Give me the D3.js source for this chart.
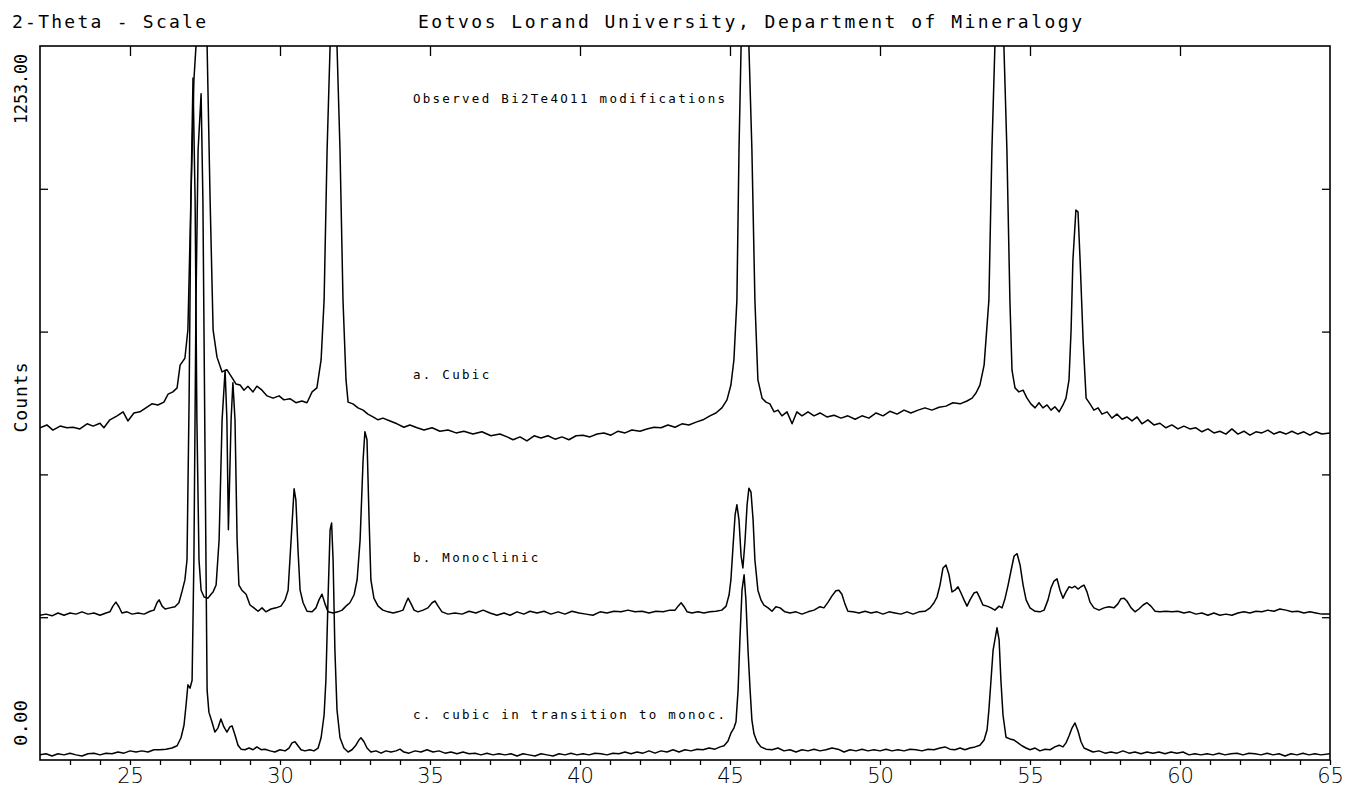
<!doctype html>
<html lang="en">
<head>
  <meta charset="utf-8">
  <style>
    body { margin: 0; background: #fff; }
    text { font-family: "DejaVu Sans Mono", monospace; fill: #000; }
  </style>
</head>
<body>
  <script src="https://d3js.org/d3.v7.min.js"></script>
  <div id="chart"></div>
  <script>
  // [2-theta, counts], three patterns offset on one axis
  var cubic = [
    [22.0,583],[22.23,588],[22.43,579],[22.67,586],[22.9,583],[23.1,584],[23.33,581],[23.57,590],[23.77,586],[24.0,591],
    [24.13,583],[24.33,597],[24.57,604],[24.77,611],[24.93,595],[25.13,609],[25.33,611],[25.53,618],[25.73,625],[25.93,623],
    [26.13,628],[26.27,642],[26.43,646],[26.57,653],[26.67,693],[26.83,705],[26.93,755],[27.03,983],[27.13,1193],[27.2,1253],
    [27.37,2600],[27.57,1253],[27.67,983],[27.77,755],[27.9,707],[28.07,681],[28.23,685],[28.4,671],[28.53,660],[28.67,658],
    [28.8,649],[28.93,656],[29.1,646],[29.23,656],[29.4,649],[29.57,639],[29.77,635],[29.97,639],[30.13,632],[30.33,634],
    [30.53,627],[30.73,630],[30.9,627],[31.07,646],[31.23,653],[31.37,702],[31.47,807],[31.57,1071],[31.67,1253],[31.78,2600],
    [31.9,1253],[32.0,1071],[32.1,807],[32.2,667],[32.27,628],[32.43,625],[32.6,618],[32.77,614],[32.93,607],[33.1,602],
    [33.27,597],[33.43,600],[33.67,595],[33.9,590],[34.13,584],[34.33,588],[34.57,583],[34.8,579],[35.07,583],[35.33,577],
    [35.6,579],[35.87,574],[36.13,577],[36.43,572],[36.73,576],[37.03,569],[37.33,572],[37.57,567],[37.77,562],[38.0,567],
    [38.23,560],[38.47,569],[38.7,565],[38.93,569],[39.17,563],[39.4,567],[39.63,562],[39.87,569],[40.1,570],[40.33,567],
    [40.57,572],[40.8,574],[41.03,570],[41.27,577],[41.5,574],[41.73,579],[42.0,577],[42.23,581],[42.47,584],[42.7,583],
    [42.93,588],[43.17,584],[43.4,590],[43.63,588],[43.87,593],[44.1,597],[44.33,604],[44.53,609],[44.73,618],[44.9,632],
    [45.03,658],[45.13,702],[45.23,807],[45.3,1071],[45.37,1253],[45.5,2600],[45.63,1253],[45.73,1071],[45.83,807],[45.93,667],
    [46.07,635],[46.2,628],[46.33,625],[46.47,611],[46.6,614],[46.73,604],[46.9,611],[47.07,590],[47.23,611],[47.4,604],
    [47.6,611],[47.8,604],[48.0,609],[48.23,602],[48.47,605],[48.7,600],[48.93,604],[49.17,598],[49.4,604],[49.63,600],
    [49.87,609],[50.1,604],[50.33,612],[50.57,607],[50.8,614],[51.03,609],[51.27,614],[51.5,618],[51.73,614],[51.97,619],
    [52.2,621],[52.43,627],[52.67,625],[52.9,630],[53.07,635],[53.2,644],[53.33,658],[53.47,693],[53.63,807],[53.73,1071],
    [53.83,1253],[53.98,2600],[54.13,1253],[54.23,1071],[54.33,807],[54.4,684],[54.5,653],[54.63,646],[54.77,649],[54.9,635],
    [55.03,625],[55.17,618],[55.3,627],[55.43,618],[55.57,623],[55.7,614],[55.83,620],[55.97,611],[56.1,623],[56.2,635],
    [56.3,667],[56.37,755],[56.43,877],[56.53,965],[56.6,962],[56.67,877],[56.77,737],[56.87,635],[57.0,625],[57.13,614],
    [57.27,618],[57.4,607],[57.57,611],[57.73,600],[57.9,607],[58.07,598],[58.23,602],[58.4,595],[58.57,602],[58.73,590],
    [58.93,597],[59.13,588],[59.33,591],[59.53,583],[59.73,588],[59.93,581],[60.13,586],[60.33,581],[60.53,583],[60.73,576],
    [60.93,581],[61.13,574],[61.33,577],[61.53,572],[61.73,581],[61.93,572],[62.13,577],[62.33,570],[62.53,576],[62.73,574],
    [62.93,579],[63.13,572],[63.33,576],[63.53,572],[63.73,577],[63.93,572],[64.13,576],[64.33,570],[64.53,576],[64.73,572],
    [65.0,574]
  ];

  var monoclinic = [
    [22.0,254],[22.2,256],[22.4,253],[22.6,258],[22.8,254],[23.0,258],[23.2,256],[23.4,260],[23.6,256],[23.8,258],
    [24.0,254],[24.2,258],[24.33,260],[24.43,270],[24.53,277],[24.63,269],[24.73,258],[24.9,260],[25.07,256],[25.27,258],
    [25.47,256],[25.67,261],[25.8,263],[25.9,276],[25.97,281],[26.07,270],[26.17,265],[26.33,267],[26.5,269],[26.63,276],
    [26.73,295],[26.83,316],[26.9,351],[26.97,632],[27.03,983],[27.1,1197],[27.17,983],[27.23,597],[27.3,351],[27.37,298],
    [27.47,286],[27.6,284],[27.7,291],[27.77,295],[27.87,307],[27.97,386],[28.07,597],[28.17,684],[28.23,597],[28.28,404],
    [28.37,597],[28.43,662],[28.5,597],[28.57,386],[28.63,307],[28.73,298],[28.87,291],[29.0,272],[29.13,267],[29.27,261],
    [29.4,267],[29.53,260],[29.7,265],[29.87,267],[30.03,270],[30.17,281],[30.27,298],[30.37,386],[30.47,476],[30.53,456],
    [30.6,369],[30.67,298],[30.77,276],[30.9,261],[31.07,260],[31.2,267],[31.3,281],[31.4,291],[31.5,274],[31.6,260],
    [31.77,258],[31.93,260],[32.07,263],[32.2,270],[32.33,276],[32.47,290],[32.57,316],[32.67,386],[32.77,527],[32.83,576],
    [32.9,562],[32.97,421],[33.03,316],[33.13,284],[33.27,270],[33.43,263],[33.6,260],[33.77,258],[33.93,260],[34.1,263],
    [34.2,276],[34.27,284],[34.37,274],[34.47,263],[34.6,260],[34.77,263],[34.93,267],[35.07,276],[35.17,279],[35.27,270],
    [35.4,260],[35.6,256],[35.83,258],[36.07,256],[36.3,261],[36.53,258],[36.77,263],[37.0,258],[37.23,254],[37.47,258],
    [37.67,254],[37.9,260],[38.13,256],[38.33,261],[38.57,258],[38.8,261],[39.03,256],[39.27,260],[39.5,256],[39.73,261],
    [39.97,258],[40.2,256],[40.43,254],[40.67,260],[40.9,258],[41.13,261],[41.37,260],[41.6,263],[41.83,260],[42.07,261],
    [42.3,258],[42.53,261],[42.77,260],[43.0,263],[43.17,263],[43.27,270],[43.37,276],[43.47,269],[43.57,260],[43.73,258],
    [43.93,260],[44.13,258],[44.33,260],[44.53,261],[44.73,263],[44.87,270],[44.97,290],[45.03,316],[45.1,374],[45.17,430],
    [45.23,448],[45.3,421],[45.37,358],[45.43,337],[45.5,384],[45.57,448],[45.63,477],[45.7,470],[45.77,421],[45.83,351],
    [45.93,298],[46.03,281],[46.13,272],[46.27,267],[46.4,261],[46.53,269],[46.67,267],[46.83,260],[47.0,258],[47.2,260],
    [47.4,256],[47.6,260],[47.8,263],[48.0,269],[48.13,267],[48.27,277],[48.4,288],[48.53,297],[48.63,298],[48.73,291],
    [48.83,274],[48.93,261],[49.1,260],[49.3,258],[49.5,261],[49.7,258],[49.9,260],[50.1,256],[50.3,260],[50.5,258],
    [50.7,256],[50.9,260],[51.1,256],[51.3,260],[51.5,261],[51.67,267],[51.8,276],[51.9,286],[52.0,307],[52.1,337],
    [52.2,342],[52.3,325],[52.4,295],[52.5,298],[52.6,304],[52.7,293],[52.8,281],[52.9,270],[53.0,281],[53.13,293],
    [53.23,295],[53.33,284],[53.43,272],[53.57,270],[53.7,267],[53.83,263],[53.97,270],[54.07,267],[54.17,284],[54.27,307],
    [54.37,333],[54.47,358],[54.57,362],[54.67,342],[54.77,307],[54.87,281],[55.0,267],[55.17,261],[55.33,260],[55.47,263],
    [55.6,281],[55.7,302],[55.8,314],[55.9,318],[56.0,298],[56.1,284],[56.2,295],[56.3,304],[56.4,302],[56.5,305],
    [56.6,300],[56.7,304],[56.8,307],[56.9,295],[57.0,277],[57.13,267],[57.3,263],[57.47,267],[57.63,269],[57.8,267],
    [57.93,274],[58.03,283],[58.13,284],[58.23,279],[58.37,267],[58.5,260],[58.63,265],[58.77,272],[58.9,276],[59.03,270],
    [59.17,261],[59.33,260],[59.53,261],[59.73,260],[59.93,261],[60.13,258],[60.33,260],[60.53,256],[60.73,258],[60.93,254],
    [61.13,258],[61.33,254],[61.53,256],[61.73,254],[61.93,258],[62.13,260],[62.33,258],[62.53,261],[62.73,260],[62.93,263],
    [63.13,261],[63.33,265],[63.53,263],[63.73,260],[63.93,261],[64.13,258],[64.33,260],[64.53,258],[64.73,256],[65.0,256]
  ];

  var transition = [
    [22.0,9],[22.2,11],[22.4,7],[22.6,11],[22.8,9],[23.0,12],[23.2,9],[23.4,7],[23.6,11],[23.8,12],
    [24.0,9],[24.2,12],[24.4,11],[24.6,14],[24.8,12],[25.0,16],[25.2,14],[25.4,16],[25.6,14],[25.8,18],
    [26.0,18],[26.2,19],[26.4,21],[26.57,25],[26.7,39],[26.8,61],[26.87,97],[26.93,132],[27.0,126],[27.07,140],
    [27.13,351],[27.2,807],[27.27,1071],[27.37,1169],[27.43,983],[27.5,544],[27.57,123],[27.63,84],[27.73,67],[27.83,49],
    [27.93,56],[28.03,72],[28.13,58],[28.23,49],[28.33,58],[28.4,60],[28.5,44],[28.6,26],[28.7,19],[28.83,18],
    [28.97,21],[29.1,18],[29.23,23],[29.37,18],[29.5,19],[29.67,16],[29.83,14],[30.0,18],[30.17,16],[30.3,21],
    [30.4,30],[30.5,32],[30.6,25],[30.7,18],[30.83,16],[31.0,18],[31.13,16],[31.27,21],[31.37,39],[31.47,79],
    [31.53,140],[31.6,281],[31.67,404],[31.72,416],[31.77,351],[31.83,193],[31.9,88],[32.0,39],[32.13,21],[32.27,14],
    [32.4,18],[32.53,26],[32.63,35],[32.7,39],[32.8,32],[32.9,21],[33.03,14],[33.2,16],[33.37,12],[33.53,16],
    [33.7,14],[33.87,16],[34.0,19],[34.13,14],[34.3,12],[34.5,16],[34.7,14],[34.9,18],[35.1,14],[35.3,16],
    [35.5,12],[35.7,14],[35.9,11],[36.1,14],[36.3,11],[36.5,12],[36.7,9],[36.9,12],[37.1,9],[37.3,11],
    [37.5,9],[37.7,11],[37.9,7],[38.1,11],[38.3,9],[38.5,7],[38.7,11],[38.9,9],[39.1,7],[39.3,11],
    [39.5,9],[39.7,12],[39.9,9],[40.1,11],[40.3,9],[40.5,12],[40.7,11],[40.9,9],[41.1,12],[41.3,11],
    [41.5,14],[41.7,11],[41.9,14],[42.1,12],[42.3,16],[42.5,12],[42.7,16],[42.9,14],[43.1,18],[43.3,14],
    [43.5,18],[43.7,16],[43.9,19],[44.1,18],[44.3,21],[44.5,19],[44.67,23],[44.8,25],[44.93,33],[45.03,47],
    [45.13,56],[45.2,67],[45.27,123],[45.33,211],[45.4,298],[45.47,325],[45.53,281],[45.6,193],[45.67,123],[45.73,70],
    [45.8,46],[45.9,32],[46.03,23],[46.2,19],[46.4,18],[46.6,21],[46.8,16],[47.0,18],[47.2,14],[47.4,18],
    [47.6,16],[47.8,19],[48.0,16],[48.2,18],[48.4,21],[48.6,19],[48.8,14],[49.0,18],[49.2,16],[49.4,19],
    [49.6,16],[49.8,18],[50.0,16],[50.2,19],[50.4,16],[50.6,18],[50.8,16],[51.0,19],[51.2,18],[51.4,16],
    [51.6,19],[51.8,18],[52.0,21],[52.17,23],[52.33,19],[52.5,18],[52.67,21],[52.83,18],[53.0,21],[53.17,23],
    [53.33,26],[53.47,35],[53.57,53],[53.63,88],[53.7,140],[53.77,193],[53.83,211],[53.9,232],[53.97,211],[54.03,140],
    [54.1,79],[54.2,40],[54.33,37],[54.47,35],[54.6,30],[54.73,25],[54.87,21],[55.0,18],[55.17,21],[55.33,16],
    [55.5,19],[55.67,18],[55.83,23],[55.97,26],[56.1,23],[56.2,30],[56.3,42],[56.4,56],[56.5,65],[56.6,51],
    [56.7,32],[56.8,21],[56.93,18],[57.1,14],[57.3,16],[57.5,12],[57.7,14],[57.9,12],[58.1,16],[58.3,12],
    [58.5,14],[58.7,11],[58.9,14],[59.1,12],[59.3,14],[59.5,11],[59.7,14],[59.9,12],[60.1,14],[60.3,9],
    [60.5,11],[60.7,9],[60.9,11],[61.1,9],[61.3,12],[61.5,9],[61.7,11],[61.9,12],[62.1,9],[62.3,12],
    [62.5,11],[62.7,9],[62.9,12],[63.1,9],[63.3,11],[63.5,7],[63.7,11],[63.9,9],[64.1,12],[64.3,9],
    [64.5,11],[64.7,9],[65.0,11]
  ];

  var xMinor = d3.range(23, 66, 1);
  var xMajor = [25, 30, 35, 40, 45, 50, 55, 60];
  var yTicks = [250.6, 501.2, 751.8, 1002.4];

  var labels = [
    {text: "Observed Bi2Te4O11 modifications", at: [34.43, 1153]},
    {text: "a. Cubic", at: [34.43, 668]},
    {text: "b. Monoclinic", at: [34.43, 347]},
    {text: "c. cubic in transition to monoc.", at: [34.43, 72]}
  ];

  var width = 1345, height = 788;
  var box = {left: 40, top: 46, right: 1330, bottom: 760};

  var svg = d3.select("#chart").append("svg")
      .attr("width", width)
      .attr("height", height);

  var x = d3.scaleLinear().domain([22, 65]).range([box.left, box.right]);
  var y = d3.scaleLinear().domain([0, 1253]).range([box.bottom, box.top]);

  svg.append("clipPath").attr("id", "plotclip")
     .append("rect")
     .attr("x", box.left).attr("y", box.top)
     .attr("width", box.right - box.left).attr("height", box.bottom - box.top);

  var line = d3.line()
      .x(function (d) { return x(d[0]); })
      .y(function (d) { return y(d[1]); });

  svg.append("g").attr("clip-path", "url(#plotclip)")
     .selectAll("path")
     .data([cubic, monoclinic, transition])
     .enter()
     .append("path")
     .attr("d", line)
     .attr("fill", "none")
     .attr("stroke", "#000")
     .attr("stroke-width", 1.5)
     .attr("stroke-linejoin", "round");

  // frame
  svg.append("rect")
     .attr("x", box.left).attr("y", box.top)
     .attr("width", box.right - box.left).attr("height", box.bottom - box.top)
     .attr("fill", "none").attr("stroke", "#000").attr("stroke-width", 1.6);

  // bottom axis, ticks every degree, labels every 5
  var axBottom = svg.append("g")
     .attr("transform", "translate(0," + box.bottom + ")")
     .call(d3.axisBottom(x).tickValues(xMinor).tickSize(5).tickPadding(3)
       .tickFormat(function (d) { return d % 5 === 0 ? d : ""; }));
  axBottom.select(".domain").remove();
  axBottom.selectAll("line").attr("stroke-width", 1.3);
  axBottom.selectAll("text")
     .style("font-size", "21px")
     .style("font-family", "'DejaVu Sans', sans-serif")
     .style("font-weight", "300");

  // top ticks pointing in
  var axTop = svg.append("g")
     .attr("transform", "translate(0," + box.top + ")")
     .call(d3.axisBottom(x).tickValues(xMajor).tickSize(10).tickFormat(""));
  axTop.select(".domain").remove();
  axTop.selectAll("line").attr("stroke-width", 1.3);

  // side ticks pointing in
  var axLeft = svg.append("g")
     .attr("transform", "translate(" + box.left + ",0)")
     .call(d3.axisRight(y).tickValues(yTicks).tickSize(8).tickFormat(""));
  axLeft.select(".domain").remove();
  axLeft.selectAll("line").attr("stroke-width", 1.3);

  var axRight = svg.append("g")
     .attr("transform", "translate(" + box.right + ",0)")
     .call(d3.axisLeft(y).tickValues(yTicks).tickSize(8).tickFormat(""));
  axRight.select(".domain").remove();
  axRight.selectAll("line").attr("stroke-width", 1.3);

  // y end labels + axis title, rotated
  svg.append("text")
     .attr("transform", "translate(27," + (box.top + 8) + ") rotate(-90)")
     .attr("text-anchor", "end")
     .attr("textLength", 70).attr("lengthAdjust", "spacingAndGlyphs")
     .style("font-size", "18px")
     .text("1253.00");

  svg.append("text")
     .attr("transform", "translate(27," + (box.bottom - 14) + ") rotate(-90)")
     .attr("text-anchor", "start")
     .attr("textLength", 46).attr("lengthAdjust", "spacingAndGlyphs")
     .style("font-size", "18px")
     .text("0.00");

  svg.append("text")
     .attr("transform", "translate(27,397) rotate(-90)")
     .attr("text-anchor", "middle")
     .style("font-size", "18px")
     .style("letter-spacing", "1px")
     .text("Counts");

  // header
  svg.append("text")
     .attr("x", 12).attr("y", 28)
     .attr("textLength", 194).attr("lengthAdjust", "spacing")
     .style("font-size", "18px")
     .text("2-Theta - Scale");

  svg.append("text")
     .attr("x", 418).attr("y", 28)
     .attr("textLength", 664).attr("lengthAdjust", "spacing")
     .style("font-size", "18px")
     .text("Eotvos Lorand University, Department of Mineralogy");

  // in-plot notes
  svg.selectAll(".note")
     .data(labels)
     .enter()
     .append("text")
     .attr("class", "note")
     .attr("x", function (d) { return x(d.at[0]); })
     .attr("y", function (d) { return y(d.at[1]); })
     .style("font-size", "12.5px")
     .style("letter-spacing", "2.3px")
     .text(function (d) { return d.text; });
  </script>
</body>
</html>
